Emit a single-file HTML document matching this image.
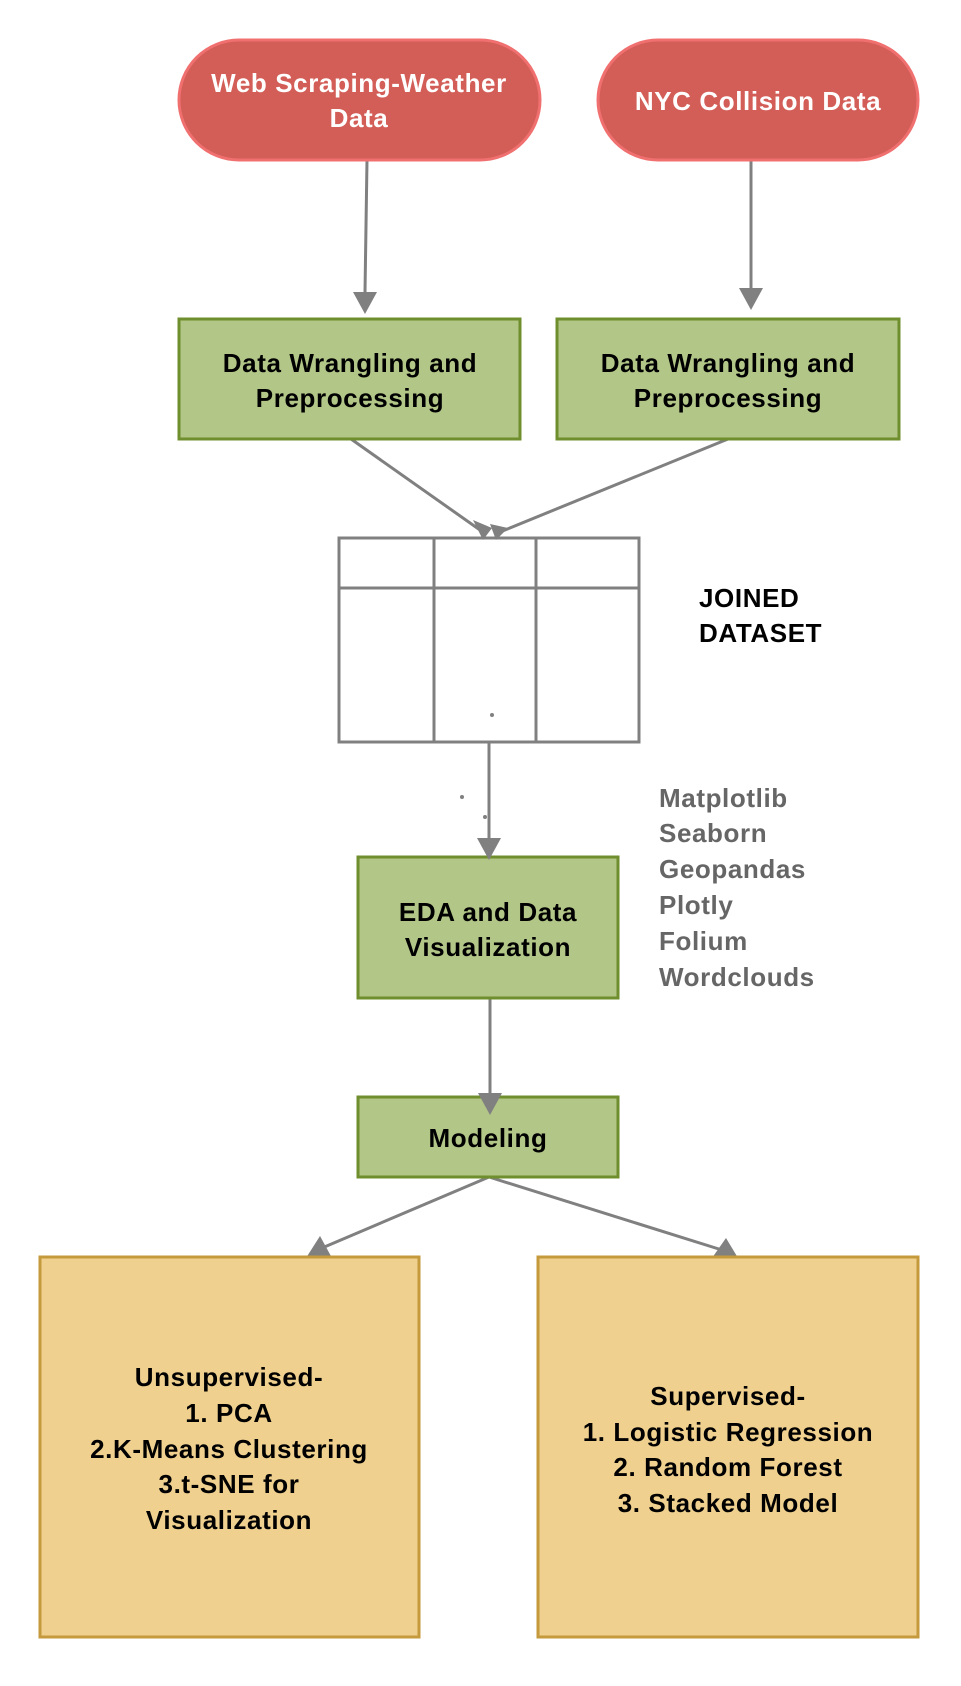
<!DOCTYPE html>
<html><head><meta charset="utf-8"><style>
html,body{margin:0;padding:0;background:#fff;}
svg text{font-family:"Liberation Sans",sans-serif;font-weight:bold;letter-spacing:0.6px;}
</style></head><body>
<svg width="961" height="1681" viewBox="0 0 961 1681" xmlns="http://www.w3.org/2000/svg">
<g stroke="#808080" stroke-width="3" fill="none">
<line x1="367" y1="160" x2="365" y2="292"/>
<line x1="751" y1="139" x2="751" y2="290"/>
<line x1="351" y1="439" x2="480" y2="530"/>
<line x1="728" y1="439" x2="500" y2="532"/>
<line x1="489" y1="742" x2="489" y2="840"/>
<line x1="490" y1="993" x2="490" y2="1095"/>
<line x1="489" y1="1177" x2="322" y2="1248"/>
<line x1="489" y1="1177" x2="722" y2="1250"/>
</g>
<rect x="179" y="40" width="361" height="120" rx="60" fill="#d35d57" stroke="#f07070" stroke-width="3"/>
<rect x="598" y="40" width="320" height="120" rx="60" fill="#d35d57" stroke="#f07070" stroke-width="3"/>
<g fill="#fff" font-size="26" text-anchor="middle">
<text x="359" y="92">Web Scraping-Weather</text>
<text x="359" y="127">Data</text>
<text x="758" y="110">NYC Collision Data</text>
</g>
<rect x="179" y="319" width="341" height="120" fill="#b2c687" stroke="#6f8f2e" stroke-width="3"/>
<rect x="557" y="319" width="342" height="120" fill="#b2c687" stroke="#6f8f2e" stroke-width="3"/>
<rect x="358" y="857" width="260" height="141" fill="#b2c687" stroke="#6f8f2e" stroke-width="3"/>
<rect x="358" y="1097" width="260" height="80" fill="#b2c687" stroke="#6f8f2e" stroke-width="3"/>
<g fill="#000" font-size="26" text-anchor="middle">
<text x="350" y="372">Data Wrangling and</text>
<text x="350" y="407">Preprocessing</text>
<text x="728" y="372">Data Wrangling and</text>
<text x="728" y="407">Preprocessing</text>
<text x="488" y="921">EDA and Data</text>
<text x="488" y="956">Visualization</text>
<text x="488" y="1147">Modeling</text>
</g>
<g stroke="#808080" stroke-width="3" fill="#fff">
<rect x="339" y="538" width="300" height="204"/>
<line x1="339" y1="588" x2="639" y2="588"/>
<line x1="434" y1="538" x2="434" y2="742"/>
<line x1="536" y1="538" x2="536" y2="742"/>
</g>
<g fill="#808080">
<polygon points="353,292 377,292 365,314"/>
<polygon points="739,288 763,288 751,310"/>
<polygon points="473,520 492,528 483,540"/>
<polygon points="490,524 508,528 496,540"/>
<polygon points="477,838 501,838 489,860"/>
<polygon points="478,1093 502,1093 490,1115"/>
<polygon points="306,1258 332,1258 320,1236"/>
<polygon points="712,1258 738,1258 726,1238"/>
<circle cx="492" cy="715" r="2"/><circle cx="462" cy="797" r="2"/><circle cx="485" cy="817" r="2"/>
</g>
<g fill="#000" font-size="26">
<text x="699" y="607">JOINED</text>
<text x="699" y="642">DATASET</text>
</g>
<g fill="#666" font-size="26">
<text x="659" y="807">Matplotlib</text>
<text x="659" y="842">Seaborn</text>
<text x="659" y="878">Geopandas</text>
<text x="659" y="914">Plotly</text>
<text x="659" y="950">Folium</text>
<text x="659" y="986">Wordclouds</text>
</g>
<rect x="40" y="1257" width="379" height="380" fill="#efd08f" stroke="#c49a3c" stroke-width="3"/>
<rect x="538" y="1257" width="380" height="380" fill="#efd08f" stroke="#c49a3c" stroke-width="3"/>
<g fill="#000" font-size="26" text-anchor="middle">
<text x="229" y="1386">Unsupervised-</text>
<text x="229" y="1422">1. PCA</text>
<text x="229" y="1458">2.K-Means Clustering</text>
<text x="229" y="1493">3.t-SNE for</text>
<text x="229" y="1529">Visualization</text>
<text x="728" y="1405">Supervised-</text>
<text x="728" y="1441">1. Logistic Regression</text>
<text x="728" y="1476">2. Random Forest</text>
<text x="728" y="1512">3. Stacked Model</text>
</g>
</svg>
</body></html>
